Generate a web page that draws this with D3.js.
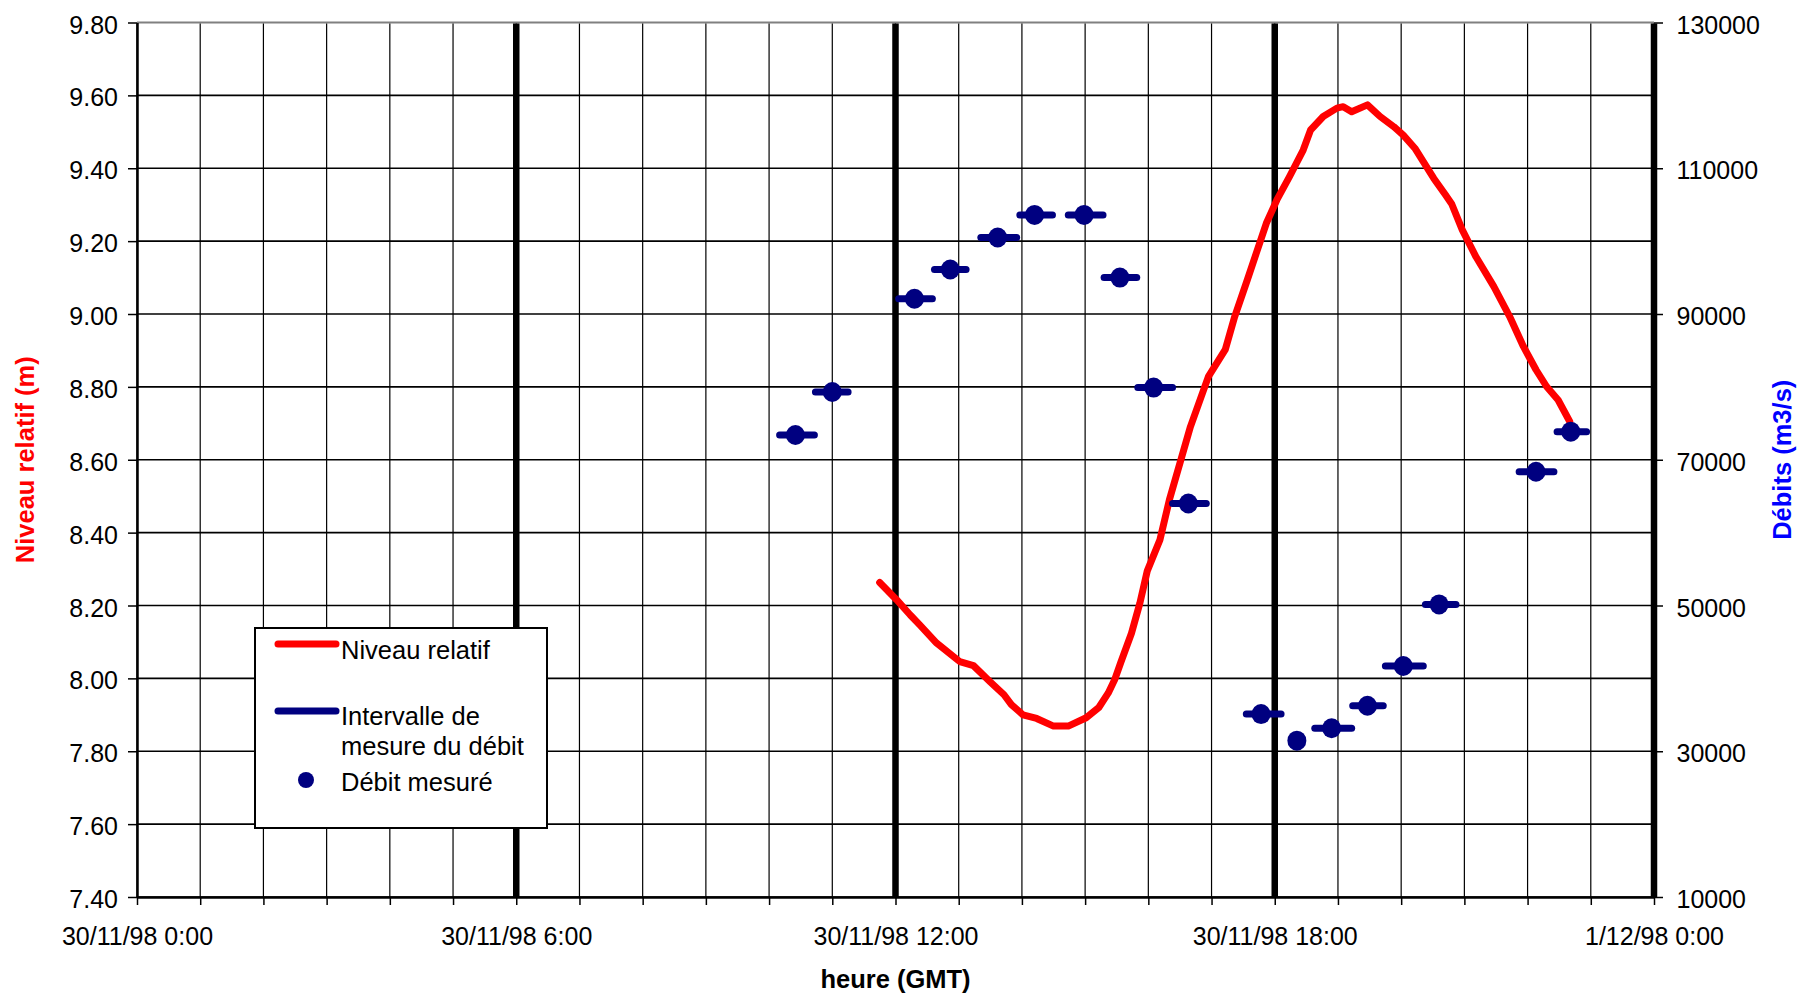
<!DOCTYPE html>
<html>
<head>
<meta charset="utf-8">
<script src="https://cdn.jsdelivr.net/npm/d3@7"></script>
<style>
  body { margin: 0; background: #fff; }
  svg { display: block; font-family: "Liberation Sans", Arial, sans-serif; }
</style>
</head>
<body>
<svg width="1798" height="996"></svg>
<script>
// niveau relatif (m), heure GMT le 30/11/98
var levelTimes = ["11:45","12:01","12:14","12:23","12:39","13:01","13:14","13:30","13:43","13:50",
  "14:01","14:14","14:30","14:44","15:01","15:13","15:22","15:28","15:34","15:44",
  "15:52","15:59","16:11","16:20","16:40","16:57","17:13","17:22","17:34","17:52",
  "18:02","18:14","18:27","18:34","18:46","18:59","19:05","19:13","19:28","19:40",
  "19:53","20:02","20:13","20:21","20:31","20:42","20:48","20:58","21:11","21:28",
  "21:43","21:56","22:08","22:18","22:29","22:40"];
var levelValues = [8.263,8.216,8.174,8.147,8.097,8.046,8.035,7.990,7.955,7.928,
  7.900,7.890,7.869,7.869,7.892,7.920,7.960,7.996,8.045,8.124,
  8.207,8.295,8.380,8.490,8.691,8.828,8.902,8.993,9.094,9.249,
  9.313,9.377,9.450,9.505,9.542,9.565,9.569,9.555,9.574,9.542,
  9.514,9.491,9.455,9.418,9.372,9.327,9.302,9.231,9.157,9.075,
  8.993,8.911,8.847,8.801,8.764,8.705];

// débits mesurés (m3/s) et intervalles de mesure
var flowTimes  = ["10:25","11:00","12:18","12:52","13:37","14:12","14:59","15:33","16:05",
  "16:38","17:47","18:21","18:54","19:28","20:02","20:36","22:08","22:41"];
var flowValues = [73400,79300,92100,96100,100500,103600,103600,95000,79900,
  64000,35100,31450,33150,36250,41700,50150,68350,73850];
var flowStart  = ["10:10","10:44","12:03","12:37","13:21","13:58","14:44","15:18","15:50",
  "16:23","17:33",null,"18:38","19:14","19:45","20:23","21:52","22:28"];
var flowEnd    = ["10:43","11:15","12:35","13:07","13:55","14:29","15:17","15:49","16:23",
  "16:55","18:06",null,"19:13","19:43","20:21","20:52","22:25","22:56"];

var leftTicks  = [7.4,7.6,7.8,8.0,8.2,8.4,8.6,8.8,9.0,9.2,9.4,9.6,9.8];
var rightTicks = [10000,30000,50000,70000,90000,110000,130000];
var xLabelHours = ["0:00","6:00","12:00","18:00","24:00"];

function at(hm) {
  var p = hm.split(":");
  return new Date(1998, 10, 30, +p[0], +p[1]);
}

var svg = d3.select("svg");
var pLeft = 137, pRight = 1654, pTop = 22.5, pBottom = 897;
var font = "Liberation Sans, Arial, sans-serif";

var x = d3.scaleTime().domain([at("0:00"), at("24:00")]).range([pLeft, pRight]);
var yL = d3.scaleLinear().domain([7.4, 9.8]).range([pBottom, pTop]);
var yR = d3.scaleLinear().domain([10000, 130000]).range([pBottom, pTop]);
var hours = d3.timeHour.range(at("0:00"), d3.timeMinute.offset(at("24:00"), 1));
var heavy = xLabelHours.map(at);

// grille horizontale
svg.append("g").selectAll("line").data(leftTicks.slice(0, -1)).enter().append("line")
  .attr("x1", pLeft).attr("x2", pRight)
  .attr("y1", function(d) { return yL(d); }).attr("y2", function(d) { return yL(d); })
  .attr("stroke", "#000").attr("stroke-width", 1.6);
svg.append("line").attr("x1", pLeft).attr("x2", pRight).attr("y1", pTop).attr("y2", pTop)
  .attr("stroke", "#808080").attr("stroke-width", 2);

// grille verticale (chaque heure)
svg.append("g").selectAll("line").data(hours).enter().append("line")
  .attr("x1", function(d) { return x(d); }).attr("x2", function(d) { return x(d); })
  .attr("y1", pTop + 1).attr("y2", pBottom)
  .attr("stroke", "#000").attr("stroke-width", 1.2);

// axe des temps
var xAxis = svg.append("g").attr("transform", "translate(0," + pBottom + ")")
  .call(d3.axisBottom(x).tickValues(hours).tickSize(8).tickSizeOuter(0)
    .tickFormat(function(d) {
      return heavy.some(function(h) { return +h === +d; }) ? d3.timeFormat("%-d/%m/%y %-H:%M")(d) : "";
    }));
xAxis.select(".domain").attr("stroke-width", 2.5);
xAxis.selectAll(".tick line").attr("stroke-width", 1.5);
xAxis.selectAll(".tick text").attr("font-size", 25).attr("font-family", font)
  .attr("fill", "#000").attr("y", 48).attr("dy", 0);

// traits épais 6h / 12h / 18h / 24h
svg.append("g").selectAll("line").data(heavy.slice(1)).enter().append("line")
  .attr("x1", function(d) { return x(d); }).attr("x2", function(d) { return x(d); })
  .attr("y1", pTop + 1).attr("y2", pBottom)
  .attr("stroke", "#000").attr("stroke-width", 6.5);

// axe gauche
var yAxisL = svg.append("g").attr("transform", "translate(" + pLeft + ",0)")
  .call(d3.axisLeft(yL).tickValues(leftTicks).tickSize(9).tickSizeOuter(0).tickFormat(d3.format(".2f")));
yAxisL.select(".domain").attr("stroke-width", 2.5);
yAxisL.selectAll(".tick line").attr("stroke-width", 1.5);
yAxisL.selectAll(".tick text").attr("font-size", 25).attr("font-family", font)
  .attr("fill", "#000").attr("x", -19).attr("dy", "0.42em");

// axe droit
var yAxisR = svg.append("g").attr("transform", "translate(" + pRight + ",0)")
  .call(d3.axisRight(yR).tickValues(rightTicks).tickSize(9).tickSizeOuter(0).tickFormat(d3.format("d")));
yAxisR.select(".domain").attr("stroke", "none");
yAxisR.selectAll(".tick line").attr("stroke-width", 1.5);
yAxisR.selectAll(".tick text").attr("font-size", 25).attr("font-family", font)
  .attr("fill", "#000").attr("x", 22.5).attr("dy", "0.42em");

// titres des axes
svg.append("text").attr("x", (pLeft + pRight) / 2).attr("y", 988)
  .attr("text-anchor", "middle").attr("font-size", 25.5).attr("font-weight", "bold")
  .text("heure (GMT)");
svg.append("text").attr("transform", "translate(34," + (pTop + pBottom) / 2 + ") rotate(-90)")
  .attr("text-anchor", "middle").attr("font-size", 25.5).attr("font-weight", "bold")
  .attr("fill", "#ff0000").text("Niveau relatif (m)");
svg.append("text").attr("transform", "translate(1791," + (pTop + pBottom) / 2 + ") rotate(-90)")
  .attr("text-anchor", "middle").attr("font-size", 25.5).attr("font-weight", "bold")
  .attr("fill", "#0000ff").text("Débits (m3/s)");

// niveau relatif
var level = levelTimes.map(function(t, i) { return { t: at(t), v: levelValues[i] }; });
svg.append("path").datum(level)
  .attr("fill", "none").attr("stroke", "#ff0000").attr("stroke-width", 7)
  .attr("stroke-linejoin", "round").attr("stroke-linecap", "round")
  .attr("d", d3.line().x(function(d) { return x(d.t); }).y(function(d) { return yL(d.v); }));

// débits
var flows = flowTimes.map(function(t, i) {
  return { t: at(t), v: flowValues[i], s: flowStart[i] && at(flowStart[i]), e: flowEnd[i] && at(flowEnd[i]) };
});
svg.append("g").selectAll("line").data(flows.filter(function(d) { return d.s; })).enter().append("line")
  .attr("x1", function(d) { return x(d.s); }).attr("x2", function(d) { return x(d.e); })
  .attr("y1", function(d) { return yR(d.v); }).attr("y2", function(d) { return yR(d.v); })
  .attr("stroke", "#000080").attr("stroke-width", 7).attr("stroke-linecap", "round");
svg.append("g").selectAll("ellipse").data(flows).enter().append("ellipse")
  .attr("cx", function(d) { return x(d.t); }).attr("cy", function(d) { return yR(d.v); })
  .attr("rx", 9.5).attr("ry", 10).attr("fill", "#000080");

// légende
var lg = svg.append("g").attr("transform", "translate(255,628)");
lg.append("rect").attr("width", 292).attr("height", 200)
  .attr("fill", "#fff").attr("stroke", "#000").attr("stroke-width", 2);
lg.append("line").attr("x1", 23).attr("x2", 81).attr("y1", 16).attr("y2", 16)
  .attr("stroke", "#ff0000").attr("stroke-width", 7).attr("stroke-linecap", "round");
lg.append("line").attr("x1", 23).attr("x2", 81).attr("y1", 83).attr("y2", 83)
  .attr("stroke", "#000080").attr("stroke-width", 7).attr("stroke-linecap", "round");
lg.append("circle").attr("cx", 51).attr("cy", 152).attr("r", 8).attr("fill", "#000080");
var legendText = [["Niveau relatif", 31], ["Intervalle de", 97], ["mesure du débit", 127], ["Débit mesuré", 163]];
lg.selectAll("text.lab").data(legendText).enter().append("text")
  .attr("class", "lab").attr("x", 86).attr("y", function(d) { return d[1]; })
  .attr("font-size", 25.5).text(function(d) { return d[0]; });
</script>
</body>
</html>
